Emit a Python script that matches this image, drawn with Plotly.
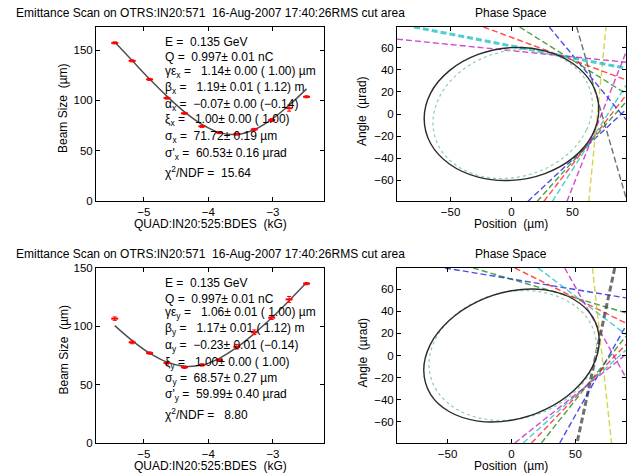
import plotly.graph_objects as go

# ---------------- data ----------------
quad_k = [-5.45, -5.18, -4.91, -4.64, -4.37, -4.10, -3.83, -3.56, -3.29, -3.02, -2.75, -2.48]

x_size = [157.2, 139.3, 120.9, 102.3, 87.2, 74.2, 68.0, 66.5, 71.2, 80.5, 92.3, 103.6]
x_err = [1.0, 1.0, 1.0, 1.0, 1.0, 1.0, 1.0, 1.0, 1.0, 1.5, 3.0, 1.0]
x_fit = [158.0, 139.6, 121.2, 104.0, 88.6, 76.1, 68.0, 66.2, 70.9, 81.2, 95.2, 111.5]

y_size = [106.6, 86.3, 77.1, 68.6, 64.9, 66.9, 71.1, 82.5, 94.9, 107.4, 123.1, 136.6]
y_err = [1.5, 1.2, 1.0, 1.0, 1.0, 1.0, 1.0, 2.0, 2.0, 1.5, 2.5, 1.0]
y_fit = [100.6, 87.8, 77.0, 69.3, 65.7, 66.8, 72.6, 81.9, 93.8, 107.3, 122.0, 137.5]

# measured phase-space ellipses (position um, angle urad)
ell_x_pos = [71.7, 66.3, 50.7, 27.4, 0.0, -27.4, -50.7, -66.3, -71.7, -66.3, -50.7, -27.4, 0.0, 27.4, 50.7, 66.3, 71.7]
ell_x_ang = [4.2, -19.2, -39.6, -54.1, -60.3, -57.3, -45.6, -27.0, -4.2, 19.2, 39.6, 54.1, 60.3, 57.3, 45.6, 27.0, 4.2]
ell_y_pos = [68.6, 63.4, 48.5, 26.2, 0.0, -26.2, -48.5, -63.4, -68.6, -63.4, -48.5, -26.2, 0.0, 26.2, 48.5, 63.4, 68.6]
ell_y_ang = [13.4, -10.0, -31.8, -48.9, -58.5, -59.2, -50.8, -34.8, -13.4, 10.0, 31.8, 48.9, 58.5, 59.2, 50.8, 34.8, 13.4]
# design ellipse (dotted)
des_pos = [66.5, 61.5, 47.3, 26.1, 1.0, -24.1, -45.3, -59.5, -64.5, -59.5, -45.3, -24.1, 1.0, 26.1, 47.3, 61.5, 66.5]
des_ang = [8.1, -14.7, -35.3, -50.5, -58.0, -56.7, -46.7, -29.7, -8.1, 14.7, 35.3, 50.5, 58.0, 56.7, 46.7, 29.7, 8.1]

# scan lines in phase space: start/end points, one per measurement
px_x0 = [13.4, 21.0, 26.5, 33.5, 45.5, 63.4, 53.5, 31.0, 6.6, -23.0, -80.0, -94.0]
px_y0 = [-79.4, -79.4, -79.4, -79.4, -79.4, -79.4, 79.0, 79.0, 79.0, 79.0, 79.0, 68.0]
px_x1 = [94.0, 94.0, 94.0, 94.0, 94.0, 77.6, 94.0, 94.0, 94.0, 94.0, 94.0, 94.0]
px_y1 = [4.0, 11.0, 17.0, 26.0, 56.0, 79.0, -76.0, -5.0, 18.5, 31.0, 41.5, 47.0]

py_x0 = [-52.0, -30.0, 2.6, 20.8, 41.6, 63.3, 80.7, 37.7, 23.4, 15.6, 9.1, 2.6]
py_y0 = [79.0, 79.0, 79.0, 79.0, 79.0, 79.0, 79.0, -79.0, -79.0, -79.0, -79.0, -79.0]
py_x1 = [89.5, 89.5, 89.5, 89.5, 89.5, 78.2, 51.2, 89.5, 89.5, 89.5, 89.5, 89.5]
py_y1 = [52.0, 38.5, 29.2, 19.0, -20.0, -79.0, -79.0, 27.0, 17.5, 10.0, 5.0, 1.0]

x_text = ["E =  0.135 GeV",
          "Q =  0.997± 0.01 nC",
          "γε<sub>x</sub> =   1.14± 0.00 ( 1.00) µm",
          "β<sub>x</sub> =   1.19± 0.01 ( 1.12) m",
          "α<sub>x</sub> =  −0.07± 0.00 (−0.14)",
          "ξ<sub>x</sub> =   1.00± 0.00 ( 1.00)",
          "σ<sub>x</sub> =  71.72± 0.19 µm",
          "σ'<sub>x</sub> =  60.53± 0.16 µrad",
          "χ<sup>2</sup>/NDF =  15.64"]
y_text = ["E =  0.135 GeV",
          "Q =  0.997± 0.01 nC",
          "γε<sub>y</sub> =   1.06± 0.01 ( 1.00) µm",
          "β<sub>y</sub> =   1.17± 0.01 ( 1.12) m",
          "α<sub>y</sub> =  −0.23± 0.01 (−0.14)",
          "ξ<sub>y</sub> =   1.00± 0.00 ( 1.00)",
          "σ<sub>y</sub> =  68.57± 0.27 µm",
          "σ'<sub>y</sub> =  59.99± 0.40 µrad",
          "χ<sup>2</sup>/NDF =   8.80"]

scan_title = "Emittance Scan on OTRS:IN20:571  16-Aug-2007 17:40:26RMS cut area"
ps_title = "Phase Space"

# ---------------- styles ----------------
W, H = 627, 474
FONT = "Liberation Sans, Arial, sans-serif"
line_colors = ["#1010e8", "#108010", "#ff1010", "#10c0c0", "#c010c0", "#c8c810", "#404040",
               "#1010e8", "#108010", "#ff1010", "#10c0c0", "#c010c0"]

def px2x(p):
    return p / W

def px2y(p):
    return 1 - p / H

fig = go.Figure()

axes = {
    "tl": dict(x=(96, 324), y=(27, 201)),
    "tr": dict(x=(397, 626), y=(27, 201)),
    "bl": dict(x=(96, 324), y=(268, 443)),
    "br": dict(x=(397, 626), y=(268, 443)),
}
names = {"tl": ("x", "y"), "tr": ("x2", "y2"), "bl": ("x3", "y3"), "br": ("x4", "y4")}

def scan_traces(xa, ya, sizes, errs, fit):
    fig.add_trace(go.Scatter(x=quad_k, y=fit, mode="lines", line=dict(color="#505050", width=1.5, shape="spline"),
                             xaxis=xa, yaxis=ya, showlegend=False, hoverinfo="skip"))
    fig.add_trace(go.Scatter(x=quad_k, y=sizes, mode="markers",
                             marker=dict(symbol="line-ew", size=5, line=dict(color="#ff0000", width=2)),
                             error_y=dict(type="data", array=errs, color="#ff0000", thickness=1, width=2),
                             xaxis=xa, yaxis=ya, showlegend=False))

def ps_traces(xa, ya, ex, ey, x0, y0, x1, y1, thick=None):
    for i in range(len(x0)):
        w = 3.0 if i == thick else 1.4
        fig.add_trace(go.Scatter(x=[x0[i], x1[i]], y=[y0[i], y1[i]], mode="lines",
                                 line=dict(color=line_colors[i], width=w, dash="6px,3px"),
                                 xaxis=xa, yaxis=ya, showlegend=False, opacity=0.75))
    fig.add_trace(go.Scatter(x=des_pos, y=des_ang, mode="lines",
                             line=dict(color="#8ccfa8", width=1.2, dash="dot", shape="spline"),
                             xaxis=xa, yaxis=ya, showlegend=False))
    fig.add_trace(go.Scatter(x=ex, y=ey, mode="lines",
                             line=dict(color="#2a2a2a", width=1.4, shape="spline"),
                             xaxis=xa, yaxis=ya, showlegend=False))

scan_traces("x", "y", x_size, x_err, x_fit)
ps_traces("x2", "y2", ell_x_pos, ell_x_ang, px_x0, px_y0, px_x1, px_y1, thick=10)
scan_traces("x3", "y3", y_size, y_err, y_fit)
ps_traces("x4", "y4", ell_y_pos, ell_y_ang, py_x0, py_y0, py_x1, py_y1, thick=6)

common = dict(showline=True, linecolor="black", linewidth=1, mirror="ticks", ticks="inside",
              ticklen=4, tickcolor="black", showgrid=False, zeroline=False, automargin=False,
              tickfont=dict(family=FONT, size=11.5, color="black"))

ranges = {
    "tl": ((-5.74, -2.21), (0, 173), 1, 50),
    "tr": ((-94, 94), (-79, 79), 50, 20),
    "bl": ((-5.74, -2.21), (0, 150), 1, 50),
    "br": ((-89.5, 89.5), (-79, 79), 50, 20),
}

layout_axes = {}
for key, (xn, yn) in names.items():
    xr, yr, dx, dy = ranges[key]
    bx, by = axes[key]["x"], axes[key]["y"]
    xid = "xaxis" + xn[1:]
    yid = "yaxis" + yn[1:]
    layout_axes[xid] = dict(common, domain=[px2x(bx[0]), px2x(bx[1])], range=list(xr), dtick=dx,
                            anchor=yn, tick0=0)
    layout_axes[yid] = dict(common, domain=[px2y(by[1]), px2y(by[0])], range=list(yr), dtick=dy,
                            anchor=xn, tick0=0)

fig.update_layout(**layout_axes)

ann = []
tf = dict(family=FONT, size=12, color="black")
for top, bot in [(27, 201), (268, 443)]:
    ann.append(dict(text=scan_title, x=px2x(210), y=px2y(top - 14), xref="paper", yref="paper",
                    showarrow=False, font=tf, xanchor="center", yanchor="middle"))
    ann.append(dict(text=ps_title, x=px2x(511), y=px2y(top - 14), xref="paper", yref="paper",
                    showarrow=False, font=tf, xanchor="center", yanchor="middle"))
    ann.append(dict(text="QUAD:IN20:525:BDES  (kG)", x=px2x(210), y=px2y(bot + 23), xref="paper", yref="paper",
                    showarrow=False, font=tf, xanchor="center", yanchor="middle"))
    ann.append(dict(text="Position  (µm)", x=px2x(511), y=px2y(bot + 23), xref="paper", yref="paper",
                    showarrow=False, font=tf, xanchor="center", yanchor="middle"))
    ann.append(dict(text="Beam Size  (µm)", x=px2x(63), y=px2y((top + bot) / 2 - 6), xref="paper", yref="paper",
                    showarrow=False, font=tf, xanchor="center", yanchor="middle", textangle=-90))
    ann.append(dict(text="Angle  (µrad)", x=px2x(362), y=px2y((top + bot) / 2 - 3), xref="paper", yref="paper",
                    showarrow=False, font=tf, xanchor="center", yanchor="middle", textangle=-90))

rows_top = [42, 57, 71.5, 88, 104.5, 120.5, 137, 154.5, 172]
rows_bot = [282.7, 298.7, 312.5, 329.2, 345.8, 363.2, 379.2, 394.8, 413.5]
for txts, rows in [(x_text, rows_top), (y_text, rows_bot)]:
    for t, r in zip(txts, rows):
        ann.append(dict(text=t, x=px2x(163), y=px2y(r), xref="paper", yref="paper", showarrow=False,
                        font=tf, xanchor="left", yanchor="middle"))

fig.update_layout(annotations=ann, width=W, height=H, margin=dict(l=0, r=0, t=0, b=0, pad=0),
                  paper_bgcolor="white", plot_bgcolor="white", showlegend=False,
                  font=dict(family=FONT, size=12, color="black"))

fig.write_html("out.html", config={"displayModeBar": False},
               post_script="document.body.style.margin='0';document.body.style.padding='0';")
